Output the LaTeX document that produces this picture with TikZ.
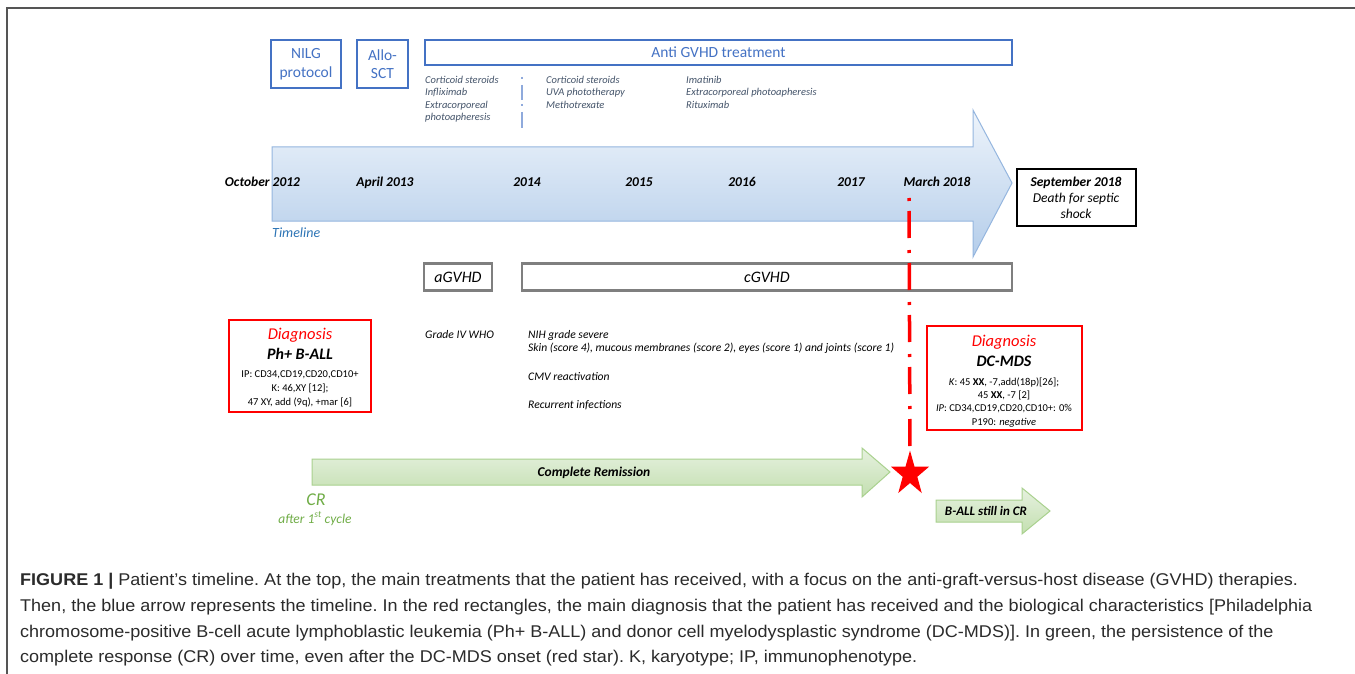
\documentclass[tikz,border=0pt]{standalone}
\usepackage{fontspec}
\setmainfont{Carlito}
\newfontfamily\capfont{Liberation Sans}[FakeStretch=1.06]
\usetikzlibrary{shapes.geometric}
\definecolor{bx}{HTML}{4472C4}
\definecolor{tr}{HTML}{44546A}
\definecolor{tlTop}{HTML}{EEF4FB}
\definecolor{tlBot}{HTML}{B4CDEA}
\definecolor{tlEdge}{HTML}{95B6DF}
\definecolor{grTop}{HTML}{E6F1DF}
\definecolor{grBot}{HTML}{C3DFB0}
\definecolor{grEdge}{HTML}{A9D18E}
\definecolor{grText}{HTML}{70AD47}
\definecolor{gb}{HTML}{7F7F7F}
\definecolor{tlText}{HTML}{2E75B6}
\definecolor{capText}{HTML}{2B2B2B}
\definecolor{frameC}{HTML}{555555}
\definecolor{sepC}{HTML}{8FAADC}
\tikzset{
  bluebox/.style={draw=bx, line width=2.5pt, text=bx, align=center, inner sep=0pt, font=\fontsize{15.5}{18.5}\selectfont},
  treat/.style={anchor=base west, inner sep=0pt, text=tr, font=\fontsize{10.5}{12}\selectfont\itshape},
  datelbl/.style={anchor=base, inner sep=0pt, font=\fontsize{13.5}{16}\selectfont\bfseries\itshape},
  graybox/.style={draw=gb, line width=2.5pt, inner sep=0pt, font=\fontsize{16}{19}\selectfont\itshape},
  redbox/.style={draw=red, line width=2.5pt, inner sep=0pt},
  blackbox/.style={draw=black, line width=2.5pt, inner sep=0pt},
  midtxt/.style={anchor=base west, inner sep=0pt, font=\fontsize{11.6}{13}\selectfont\itshape},
  smalltxt/.style={anchor=base, inner sep=0pt, font=\fontsize{10.5}{12}\selectfont},
  diag/.style={anchor=base, inner sep=0pt, text=red, font=\fontsize{16.5}{19}\selectfont\itshape},
  dname/.style={anchor=base, inner sep=0pt, font=\fontsize{16}{19}\selectfont\bfseries\itshape},
  septxt/.style={anchor=base, inner sep=0pt, font=\fontsize{13.5}{16}\selectfont\itshape},
  captxt/.style={anchor=base west, inner sep=0pt, text=capText, font=\capfont\fontsize{17}{20}\selectfont\frenchspacing},
  tlshape/.style={top color=tlTop, bottom color=tlBot, draw=tlEdge, line width=1pt},
  grshape/.style={top color=grTop, bottom color=grBot, draw=grEdge, line width=1pt},
}
\begin{document}
\begin{tikzpicture}[x=1pt,y=-1pt]
\useasboundingbox (0,0) rectangle (1355,674);
\fill[white] (0,0) rectangle (1355,674);
% frame
\draw[frameC, line width=2pt] (7,674) -- (7,8) -- (1355,8);

% top boxes
\node[bluebox, minimum width=70, minimum height=48] (nilg) at (306,64) {NILG\\protocol};
\node[bluebox, minimum width=51, minimum height=48] (allo) at (382.5,64) {Allo-\\SCT};
\node[bluebox, minimum width=587, minimum height=25] (anti) at (718.5,52.5) {Anti GVHD treatment};

% treatments
\node[treat] (c1a) at (425,84) {Corticoid steroids};
\node[treat] (c1b) at (425,96) {Infliximab};
\node[treat] (c1c) at (425,109) {Extracorporeal};
\node[treat] (c1d) at (425,121) {photoapheresis};
\node[treat] (c2a) at (546,84) {Corticoid steroids};
\node[treat] (c2b) at (546,96) {UVA phototherapy};
\node[treat] (c2c) at (546,109) {Methotrexate};
\node[treat] (c3a) at (686,84) {Imatinib};
\node[treat] (c3b) at (686,96) {Extracorporeal photoapheresis};
\node[treat] (c3c) at (686,109) {Rituximab};
\coordinate (sepT) at (522,77);
\coordinate (sepB) at (522,128);
\draw[sepC, line width=1.3pt, dash pattern=on 2pt off 6pt on 15pt off 4pt on 2pt off 6pt on 16pt] (sepT) -- (sepB);

% timeline arrow
\shadedraw[tlshape] (272,147) -- (973,147) -- (973,110) -- (1012,183) -- (973,257) -- (973,221) -- (272,221) -- cycle;
\node[datelbl] (d0) at (262.5,186) {October 2012};
\node[datelbl] (d1) at (385,186) {April 2013};
\node[datelbl] (d2) at (527,186) {2014};
\node[datelbl] (d3) at (639,186) {2015};
\node[datelbl] (d4) at (742,186) {2016};
\node[datelbl] (d5) at (851,186) {2017};
\node[datelbl] (d6) at (937,186) {March 2018};
\node[anchor=base west, inner sep=0pt, text=tlText, font=\fontsize{14}{17}\selectfont\itshape] (tl) at (272,237) {Timeline};

% September box
\node[blackbox, minimum width=119, minimum height=57] (sep) at (1076.5,197.5) {};
\node[datelbl] (s1) at (1076,186) {September 2018};
\node[septxt] (s2) at (1076,202) {Death for septic};
\node[septxt] (s3) at (1076,218) {shock};

% GVHD boxes
\node[graybox, minimum width=68, minimum height=27] (agvhd) at (458,277) {aGVHD};
\node[graybox, minimum width=490, minimum height=27] (cgvhd) at (767,277) {cGVHD};

% middle text
\node[midtxt] (m0) at (425,338.5) {Grade IV WHO};
\node[midtxt] (m1) at (528,338.5) {NIH grade severe};
\node[midtxt] (m2) at (528,351.5) {Skin (score 4), mucous membranes (score 2), eyes (score 1) and joints (score 1)};
\node[midtxt] (m3) at (528,380.5) {CMV reactivation};
\node[midtxt] (m4) at (528,408.5) {Recurrent infections};

% left diagnosis
\node[redbox, minimum width=142, minimum height=92] (ldx) at (300,366) {};
\node[diag] (l1) at (300,339) {Diagnosis};
\node[dname] (l2) at (300,359) {Ph+ B-ALL};
\node[smalltxt] (l3) at (300,377.5) {IP: CD34,CD19,CD20,CD10+};
\node[smalltxt] (l4) at (300,391) {K: 46,XY [12];};
\node[smalltxt] (l5) at (300,405) {47 XY, add (9q), +mar [6]};

% right diagnosis
\node[redbox, minimum width=155, minimum height=104] (rdx) at (1004.5,378) {};
\node[diag] (r1) at (1004,346) {Diagnosis};
\node[dname] (r2) at (1004,366) {DC-MDS};
\node[smalltxt] (r3) at (1004,385.5) {\textit{K}: 45 \textbf{XX}, -7,add(18p)[26];};
\node[smalltxt] (r4) at (1004,398.5) {45 \textbf{XX}, -7 [2]};
\node[smalltxt] (r5) at (1004,411.5) {\textit{IP}: CD34,CD19,CD20,CD10+: 0\%};
\node[smalltxt] (r6) at (1004,425) {P190: \textit{negative}};

% red dash-dot line and star
\coordinate (rtop) at (909,198);
\node[star, star points=5, star point ratio=2.6, fill=red, inner sep=0pt, minimum size=47pt, xscale=0.85, transform shape] (star) at (910,474) {};
\draw[red, line width=3.5pt, dash pattern=on 3pt off 10pt on 27pt off 12pt] (rtop) -- (star.north);

% green arrows
\shadedraw[grshape] (312,459) -- (862,459) -- (862,448) -- (890,472) -- (862,497) -- (862,485) -- (312,485) -- cycle;
\node[anchor=base, inner sep=0pt, font=\fontsize{13.5}{16}\selectfont\bfseries\itshape] (crtxt) at (594,476.5) {Complete Remission};
\shadedraw[grshape] (936,500) -- (1022,500) -- (1022,488) -- (1050,511) -- (1022,534) -- (1022,522) -- (936,522) -- cycle;
\node[anchor=base, inner sep=0pt, font=\fontsize{13}{15}\selectfont\bfseries\itshape] (still) at (986,515.5) {B-ALL still in CR};
\node[anchor=base, inner sep=0pt, text=grText, font=\fontsize{18}{21}\selectfont\itshape] (cr) at (316,505) {CR};
\node[anchor=base, inner sep=0pt, text=grText, font=\fontsize{13.5}{16}\selectfont\itshape] (after) at (315,523) {after 1\textsuperscript{st} cycle};

% caption
\node[captxt] (cap1) at (20,585) {\textbf{FIGURE 1 |} Patient’s timeline. At the top, the main treatments that the patient has received, with a focus on the anti-graft-versus-host disease (GVHD) therapies.};
\node[captxt] (cap2) at (20,611) {Then, the blue arrow represents the timeline. In the red rectangles, the main diagnosis that the patient has received and the biological characteristics [Philadelphia};
\node[captxt] (cap3) at (20,637) {chromosome-positive B-cell acute lymphoblastic leukemia (Ph+ B-ALL) and donor cell myelodysplastic syndrome (DC-MDS)]. In green, the persistence of the};
\node[captxt] (cap4) at (20,662) {complete response (CR) over time, even after the DC-MDS onset (red star). K, karyotype; IP, immunophenotype.};
\end{tikzpicture}
\end{document}
